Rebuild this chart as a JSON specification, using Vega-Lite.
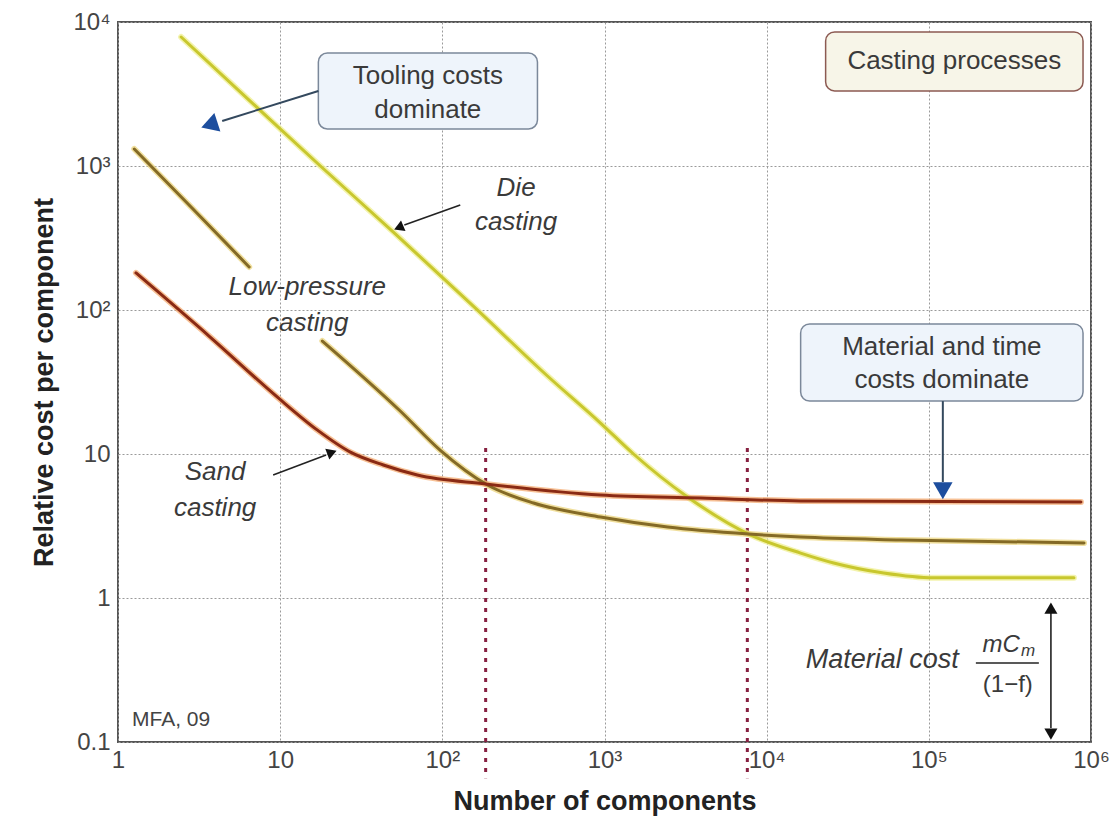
{
  "$schema": "https://vega.github.io/schema/vega-lite/v6.json",
  "width": 973,
  "height": 720,
  "autosize": {"type": "none"},
  "padding": {"left": 118, "top": 22, "right": 26, "bottom": 84},
  "background": "white",
  "config": {
    "font": "Liberation Sans",
    "view": {"stroke": "#555555", "strokeWidth": 2}
  },
  "resolve": {"scale": {"color": "independent"}},
  "datasets": {
    "curves": [
      {"process": "Die casting", "seg": "die", "n": 2.45, "cost": 7870},
      {"process": "Die casting", "seg": "die", "n": 6.53, "cost": 2826},
      {"process": "Die casting", "seg": "die", "n": 17.7, "cost": 1000},
      {"process": "Die casting", "seg": "die", "n": 49.9, "cost": 348},
      {"process": "Die casting", "seg": "die", "n": 160, "cost": 103},
      {"process": "Die casting", "seg": "die", "n": 445, "cost": 34.8},
      {"process": "Die casting", "seg": "die", "n": 945, "cost": 16.4},
      {"process": "Die casting", "seg": "die", "n": 1510, "cost": 10},
      {"process": "Die casting", "seg": "die", "n": 3250, "cost": 5.03},
      {"process": "Die casting", "seg": "die", "n": 7740, "cost": 2.78},
      {"process": "Die casting", "seg": "die", "n": 16200, "cost": 2.05},
      {"process": "Die casting", "seg": "die", "n": 25900, "cost": 1.75},
      {"process": "Die casting", "seg": "die", "n": 52700, "cost": 1.49},
      {"process": "Die casting", "seg": "die", "n": 107000, "cost": 1.38},
      {"process": "Die casting", "seg": "die", "n": 785000, "cost": 1.38},
      {"process": "Low-pressure casting", "seg": "lp1", "n": 1.26, "cost": 1312},
      {"process": "Low-pressure casting", "seg": "lp1", "n": 2.86, "cost": 511},
      {"process": "Low-pressure casting", "seg": "lp1", "n": 6.44, "cost": 199},
      {"process": "Low-pressure casting", "seg": "lp2", "n": 18.2, "cost": 60.9},
      {"process": "Low-pressure casting", "seg": "lp2", "n": 55, "cost": 19.9},
      {"process": "Low-pressure casting", "seg": "lp2", "n": 97.2, "cost": 10.6},
      {"process": "Low-pressure casting", "seg": "lp2", "n": 190, "cost": 6.09},
      {"process": "Low-pressure casting", "seg": "lp2", "n": 365, "cost": 4.57},
      {"process": "Low-pressure casting", "seg": "lp2", "n": 945, "cost": 3.65},
      {"process": "Low-pressure casting", "seg": "lp2", "n": 2450, "cost": 3.11},
      {"process": "Low-pressure casting", "seg": "lp2", "n": 7740, "cost": 2.78},
      {"process": "Low-pressure casting", "seg": "lp2", "n": 16200, "cost": 2.65},
      {"process": "Low-pressure casting", "seg": "lp2", "n": 67100, "cost": 2.53},
      {"process": "Low-pressure casting", "seg": "lp2", "n": 906000, "cost": 2.41},
      {"process": "Sand casting", "seg": "sand", "n": 1.29, "cost": 181},
      {"process": "Sand casting", "seg": "sand", "n": 3.7, "cost": 64.9},
      {"process": "Sand casting", "seg": "sand", "n": 9.58, "cost": 24.9},
      {"process": "Sand casting", "seg": "sand", "n": 16.9, "cost": 14.7},
      {"process": "Sand casting", "seg": "sand", "n": 27.1, "cost": 10.3},
      {"process": "Sand casting", "seg": "sand", "n": 43.3, "cost": 8.39},
      {"process": "Sand casting", "seg": "sand", "n": 70.1, "cost": 7.15},
      {"process": "Sand casting", "seg": "sand", "n": 185, "cost": 6.2},
      {"process": "Sand casting", "seg": "sand", "n": 945, "cost": 5.19},
      {"process": "Sand casting", "seg": "sand", "n": 3915, "cost": 4.95},
      {"process": "Sand casting", "seg": "sand", "n": 16200, "cost": 4.72},
      {"process": "Sand casting", "seg": "sand", "n": 867000, "cost": 4.64}
    ],
    "crossovers": [
      {"n": 185, "cost": 11, "cost2": 0.056},
      {"n": 7600, "cost": 11, "cost2": 0.056}
    ],
    "boxes": [
      {"box": "tooling", "n": 17.2, "n2": 386, "cost": 6090, "cost2": 1807},
      {"box": "material", "n": 16200, "n2": 893000, "cost": 80, "cost2": 23.3},
      {"box": "casting", "n": 23100, "n2": 893000, "cost": 8530, "cost2": 3319}
    ],
    "arrows": [
      {"id": "tooling", "grp": "blue", "n": 17.2, "cost": 3319, "n2": 4.39, "cost2": 2054},
      {"id": "material", "grp": "blue", "n": 122000, "cost": 23.3, "n2": 122000, "cost2": 6.39},
      {"id": "die", "grp": "black", "n": 129, "cost": 536, "n2": 58.3, "cost2": 389},
      {"id": "sand", "grp": "black", "n": 9.05, "cost": 7.15, "n2": 19.2, "cost2": 9.84},
      {"id": "matcost", "grp": "black", "n": 566000, "cost": 0.799, "n2": 566000, "cost2": 0.125},
      {"id": "fraction", "grp": "black", "n": 195000, "cost": 0.354, "n2": 477000, "cost2": 0.354}
    ],
    "heads": [
      {"id": "tooling", "n": 3.8, "cost": 1958},
      {"id": "material", "n": 122000, "cost": 5.81},
      {"id": "die", "n": 55, "cost": 377},
      {"id": "sand", "n": 20.4, "cost": 10.16},
      {"id": "mc_up", "n": 566000, "cost": 0.825},
      {"id": "mc_down", "n": 566000, "cost": 0.117}
    ],
    "labels": [
      {"grp": "box", "label": "Tooling costs", "n": 81.4, "cost": 4217},
      {"grp": "box", "label": "dominate", "n": 81.4, "cost": 2448},
      {"grp": "box", "label": "Material and time", "n": 120300, "cost": 55.3},
      {"grp": "box", "label": "costs dominate", "n": 120300, "cost": 32.6},
      {"grp": "box", "label": "Casting processes", "n": 143600, "cost": 5360},
      {"grp": "ital", "label": "Die", "n": 285, "cost": 703},
      {"grp": "ital", "label": "casting", "n": 285, "cost": 408},
      {"grp": "ital", "label": "Low-pressure", "n": 14.7, "cost": 144.5},
      {"grp": "ital", "label": "casting", "n": 14.7, "cost": 81.2},
      {"grp": "ital", "label": "Sand", "n": 3.97, "cost": 7.5},
      {"grp": "ital", "label": "casting", "n": 3.97, "cost": 4.22},
      {"grp": "matcost", "label": "Material cost", "n": 153000, "cost": 0.371},
      {"grp": "num", "label": "mC", "n": 364600, "cost": 0.472},
      {"grp": "sub", "label": "m", "n": 370000, "cost": 0.428},
      {"grp": "den", "label": "(1−f)", "n": 307000, "cost": 0.249},
      {"grp": "credit", "label": "MFA, 09", "n": 1.22, "cost": 0.142}
    ]
  },
  "encoding": {
    "x": {
      "field": "n",
      "type": "quantitative",
      "scale": {"type": "log", "domain": [1, 1000000], "nice": false},
      "axis": {
        "title": "Number of components",
        "values": [1, 10, 100, 1000, 10000, 100000, 1000000],
        "labelExpr": "datum.value == 1 ? '1' : datum.value == 10 ? '10' : datum.value == 100 ? '10²' : datum.value == 1000 ? '10³' : datum.value == 10000 ? '10⁴' : datum.value == 100000 ? '10⁵' : '10⁶'",
        "grid": true,
        "gridColor": "#9a9a9a",
        "gridDash": [2, 2],
        "gridWidth": 1,
        "ticks": false,
        "domain": false,
        "labelFontSize": 24,
        "labelColor": "#444444",
        "labelPadding": 6,
        "labelFlush": false,
        "labelOverlap": false,
        "titleFontSize": 27,
        "titleFontWeight": "bold",
        "titleColor": "#222222",
        "titlePadding": 16
      }
    },
    "y": {
      "field": "cost",
      "type": "quantitative",
      "scale": {"type": "log", "domain": [0.1, 10000], "nice": false},
      "axis": {
        "title": "Relative cost per component",
        "values": [0.1, 1, 10, 100, 1000, 10000],
        "labelExpr": "datum.value == 10000 ? '10⁴' : datum.value == 1000 ? '10³' : datum.value == 100 ? '10²' : datum.value == 10 ? '10' : datum.value == 1 ? '1' : '0.1'",
        "grid": true,
        "gridColor": "#9a9a9a",
        "gridDash": [2, 2],
        "gridWidth": 1,
        "ticks": false,
        "domain": false,
        "labelFontSize": 24,
        "labelColor": "#444444",
        "labelPadding": 8,
        "labelOverlap": false,
        "labelFlush": false,
        "titleFontSize": 27,
        "titleFontWeight": "bold",
        "titleColor": "#222222",
        "titlePadding": 14
      }
    }
  },
  "layer": [
    {
      "data": {"name": "crossovers"},
      "mark": {"type": "rule", "color": "#862040", "strokeWidth": 3, "strokeDash": [4, 6], "clip": false},
      "encoding": {"y2": {"field": "cost2"}}
    },
    {
      "data": {"name": "curves"},
      "mark": {"type": "line", "strokeWidth": 6, "interpolate": "monotone", "opacity": 0.7, "strokeCap": "round"},
      "encoding": {
        "detail": {"field": "seg"},
        "color": {
          "field": "process",
          "type": "nominal",
          "scale": {"domain": ["Sand casting", "Low-pressure casting", "Die casting"], "range": ["#f3a66a", "#e9d273", "#eeee8a"]},
          "legend": null
        }
      }
    },
    {
      "data": {"name": "curves"},
      "mark": {"type": "line", "strokeWidth": 3, "interpolate": "monotone", "strokeCap": "round"},
      "encoding": {
        "detail": {"field": "seg"},
        "color": {
          "field": "process",
          "type": "nominal",
          "scale": {"domain": ["Sand casting", "Low-pressure casting", "Die casting"], "range": ["#8a2a14", "#846a26", "#c8c72e"]},
          "legend": null
        }
      }
    },
    {
      "data": {"name": "boxes"},
      "mark": {"type": "rect", "cornerRadius": 9, "strokeWidth": 1.5},
      "encoding": {
        "x2": {"field": "n2"},
        "y2": {"field": "cost2"},
        "fill": {
          "field": "box",
          "type": "nominal",
          "scale": {"domain": ["tooling", "material", "casting"], "range": ["#eef4fb", "#eef4fb", "#f7f5e8"]},
          "legend": null
        },
        "stroke": {
          "field": "box",
          "type": "nominal",
          "scale": {"domain": ["tooling", "material", "casting"], "range": ["#7b889a", "#7b889a", "#8c5a52"]},
          "legend": null
        }
      }
    },
    {
      "data": {"name": "arrows"},
      "transform": [{"filter": "datum.grp == 'blue'"}],
      "mark": {"type": "rule", "color": "#34495e", "strokeWidth": 2},
      "encoding": {"x2": {"field": "n2"}, "y2": {"field": "cost2"}}
    },
    {
      "data": {"name": "arrows"},
      "transform": [{"filter": "datum.grp == 'black'"}],
      "mark": {"type": "rule", "color": "#222222", "strokeWidth": 1.6},
      "encoding": {"x2": {"field": "n2"}, "y2": {"field": "cost2"}}
    },
    {
      "data": {"name": "heads"},
      "transform": [{"filter": "datum.id == 'tooling'"}],
      "mark": {"type": "point", "shape": "triangle", "filled": true, "color": "#1d4e9e", "opacity": 1, "size": 380, "angle": 252},
      "encoding": {}
    },
    {
      "data": {"name": "heads"},
      "transform": [{"filter": "datum.id == 'material'"}],
      "mark": {"type": "point", "shape": "triangle", "filled": true, "color": "#1d4e9e", "opacity": 1, "size": 380, "angle": 180},
      "encoding": {}
    },
    {
      "data": {"name": "heads"},
      "transform": [{"filter": "datum.id == 'die'"}],
      "mark": {"type": "point", "shape": "triangle", "filled": true, "color": "#111111", "opacity": 1, "size": 130, "angle": 247},
      "encoding": {}
    },
    {
      "data": {"name": "heads"},
      "transform": [{"filter": "datum.id == 'sand'"}],
      "mark": {"type": "point", "shape": "triangle", "filled": true, "color": "#111111", "opacity": 1, "size": 130, "angle": 69},
      "encoding": {}
    },
    {
      "data": {"name": "heads"},
      "transform": [{"filter": "datum.id == 'mc_up'"}],
      "mark": {"type": "point", "shape": "triangle", "filled": true, "color": "#111111", "opacity": 1, "size": 170, "angle": 0},
      "encoding": {}
    },
    {
      "data": {"name": "heads"},
      "transform": [{"filter": "datum.id == 'mc_down'"}],
      "mark": {"type": "point", "shape": "triangle", "filled": true, "color": "#111111", "opacity": 1, "size": 170, "angle": 180},
      "encoding": {}
    },
    {
      "data": {"name": "labels"},
      "transform": [{"filter": "datum.grp == 'box'"}],
      "mark": {"type": "text", "fontSize": 26, "color": "#3a3a3a", "align": "center", "baseline": "middle"},
      "encoding": {"text": {"field": "label"}}
    },
    {
      "data": {"name": "labels"},
      "transform": [{"filter": "datum.grp == 'ital'"}],
      "mark": {"type": "text", "fontSize": 26, "fontStyle": "italic", "color": "#3a3a3a", "align": "center", "baseline": "middle"},
      "encoding": {"text": {"field": "label"}}
    },
    {
      "data": {"name": "labels"},
      "transform": [{"filter": "datum.grp == 'matcost'"}],
      "mark": {"type": "text", "fontSize": 27, "fontStyle": "italic", "color": "#3a3a3a", "align": "right", "baseline": "middle"},
      "encoding": {"text": {"field": "label"}}
    },
    {
      "data": {"name": "labels"},
      "transform": [{"filter": "datum.grp == 'num'"}],
      "mark": {"type": "text", "fontSize": 24, "fontStyle": "italic", "color": "#3a3a3a", "align": "right", "baseline": "middle"},
      "encoding": {"text": {"field": "label"}}
    },
    {
      "data": {"name": "labels"},
      "transform": [{"filter": "datum.grp == 'sub'"}],
      "mark": {"type": "text", "fontSize": 17, "fontStyle": "italic", "color": "#3a3a3a", "align": "left", "baseline": "middle"},
      "encoding": {"text": {"field": "label"}}
    },
    {
      "data": {"name": "labels"},
      "transform": [{"filter": "datum.grp == 'den'"}],
      "mark": {"type": "text", "fontSize": 24, "color": "#3a3a3a", "align": "center", "baseline": "middle"},
      "encoding": {"text": {"field": "label"}}
    },
    {
      "data": {"name": "labels"},
      "transform": [{"filter": "datum.grp == 'credit'"}],
      "mark": {"type": "text", "fontSize": 21, "color": "#444444", "align": "left", "baseline": "middle"},
      "encoding": {"text": {"field": "label"}}
    }
  ]
}
